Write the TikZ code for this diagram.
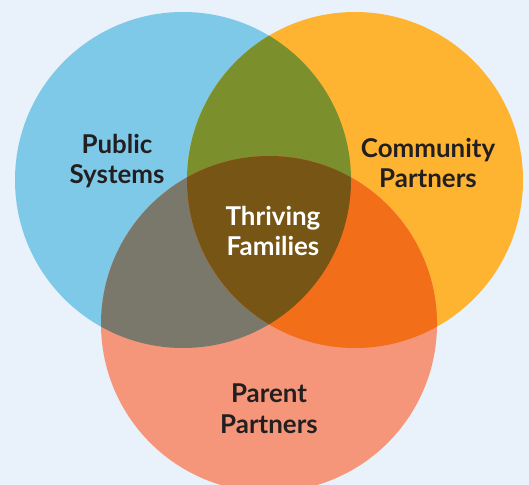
\documentclass[tikz,border=0pt]{standalone}
\usepackage{fontspec}
\setmainfont{Lato}
\definecolor{bgblue}{HTML}{E9F2FA}
\definecolor{pubblue}{HTML}{7EC9E8}
\definecolor{comorange}{HTML}{FFB431}
\definecolor{parsalmon}{HTML}{F5967A}
\definecolor{pubcom}{HTML}{7B8F2D}
\definecolor{pubpar}{HTML}{79786A}
\definecolor{compar}{HTML}{F26E19}
\definecolor{allthree}{HTML}{775515}
\definecolor{labeltext}{HTML}{231F20}
\tikzset{
	circlabel/.style={align=center, text=labeltext, font=\bfseries\fontsize{26}{31}\selectfont},
	midlabel/.style={circlabel, text=white}
}

\begin{document}
\begin{tikzpicture}[x=1bp, y=-1bp]
	\fill[bgblue] (0,0) rectangle (529,485);
	\useasboundingbox (0,0) rectangle (529,485);
	\def\rad{168}
	\coordinate (pub) at (183,180);
	\coordinate (com) at (355,180);
	\coordinate (par) at (269,324);
	% the three circles
	\fill[pubblue] (pub) circle (\rad);
	\fill[comorange] (com) circle (\rad);
	\fill[parsalmon] (par) circle (\rad);
	% overlaps
	\begin{scope}
		\clip (pub) circle (\rad);
		\fill[pubcom] (com) circle (\rad);
		\fill[pubpar] (par) circle (\rad);
	\end{scope}
	\begin{scope}
		\clip (com) circle (\rad);
		\fill[compar] (par) circle (\rad);
	\end{scope}
	\begin{scope}
		\clip (pub) circle (\rad);
		\clip (com) circle (\rad);
		\fill[allthree] (par) circle (\rad);
	\end{scope}
	% labels
	\node[circlabel] (publabel) at (117,161) {Public\\Systems};
	\node[circlabel] (comlabel) at (428,163) {Community\\Partners};
	\node[circlabel] (parlabel) at (269,409) {Parent\\Partners};
	\node[midlabel] (midtext) at (273,231) {Thriving\\Families};
\end{tikzpicture}
\end{document}
